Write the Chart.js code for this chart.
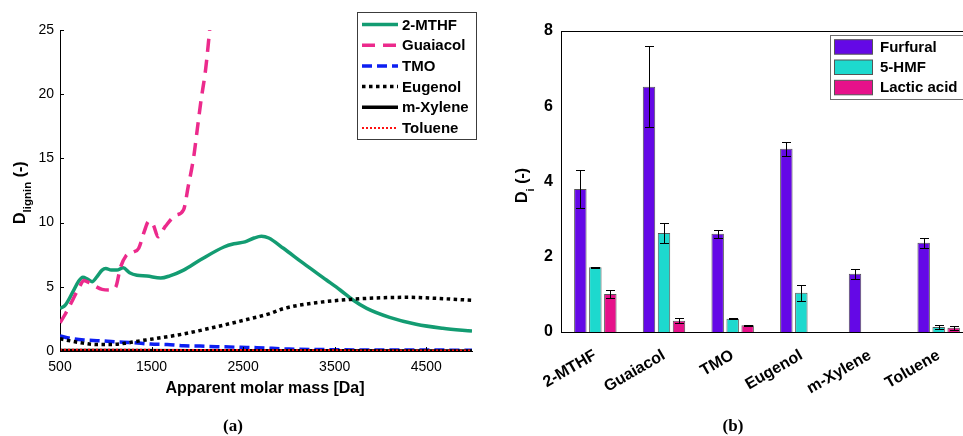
<!DOCTYPE html>
<html>
<head>
<meta charset="utf-8">
<script src="https://cdn.jsdelivr.net/npm/chart.js@4.4.1/dist/chart.umd.min.js"></script>
<style>
  html, body { margin: 0; padding: 0; background: #fff; overflow: hidden; width: 963px; height: 436px; }
  #lignin { position: absolute; left: 0; top: 0; }
  #partition { position: absolute; left: 490px; top: 0; }
  .cap { position: absolute; top: 416px; width: 80px; text-align: center; font: bold 17px "Liberation Serif", "Times New Roman", serif; color: #000; }
</style>
</head>
<body>
<canvas id="lignin" width="490" height="436"></canvas>
<canvas id="partition" width="500" height="436"></canvas>
<div class="cap" style="left:193px">(a)</div>
<div class="cap" style="left:693px">(b)</div>
<script>
// (a) lignin distribution coefficient vs apparent molar mass
const massTicks = [500, 1500, 2500, 3500, 4500];

const mthfMass = [500, 560, 640, 700, 750, 800, 850, 900, 960, 1000, 1060, 1120, 1190, 1260, 1340, 1450, 1600, 1700, 1850, 2030, 2290, 2400, 2520, 2620, 2700, 2780, 2940, 3160, 3410, 3560, 3700, 3850, 4100, 4390, 4680, 5000];
const mthfD    = [3.3, 3.6, 4.6, 5.4, 5.75, 5.6, 5.4, 5.75, 6.3, 6.43, 6.3, 6.3, 6.48, 6.1, 5.9, 5.84, 5.68, 5.85, 6.3, 7.08, 8.1, 8.35, 8.5, 8.8, 8.93, 8.8, 8.0, 6.82, 5.53, 4.75, 3.97, 3.32, 2.62, 2.08, 1.77, 1.55];

const guaiacolMass = [500, 560, 640, 720, 760, 810, 870, 960, 1050, 1110, 1160, 1220, 1300, 1360, 1420, 1470, 1520, 1570, 1650, 1760, 1850, 1900, 1960, 2000, 2040, 2090, 2135];
const guaiacolD    = [2.2, 2.9, 4.0, 5.1, 5.5, 5.35, 5.1, 4.8, 4.75, 5.0, 6.5, 7.4, 7.7, 8.0, 9.3, 10.1, 9.8, 8.9, 9.7, 10.55, 11.0, 12.8, 15.1, 17.3, 19.5, 21.9, 25.0];

const tmoMass = [500, 610, 760, 940, 1090, 1300, 1490, 1670, 1850, 2030, 2210, 2470, 2650, 3000, 3500, 4000, 4500, 5000];
const tmoD    = [1.17, 0.99, 0.86, 0.8, 0.72, 0.64, 0.54, 0.5, 0.41, 0.38, 0.34, 0.29, 0.26, 0.15, 0.1, 0.08, 0.08, 0.05];

const eugenolMass = [500, 720, 900, 1050, 1230, 1380, 1490, 1850, 2210, 2540, 2800, 2940, 3300, 3670, 4030, 4320, 4610, 5000];
const eugenolD    = [0.95, 0.65, 0.5, 0.5, 0.62, 0.8, 0.91, 1.33, 1.89, 2.45, 2.93, 3.3, 3.76, 4.02, 4.15, 4.18, 4.1, 3.95];

const xyleneMass = [500, 2000, 3500, 5000];
const xyleneD    = [0.04, 0.02, 0.01, 0.0];

const tolueneMass = [500, 2000, 3500, 5000];
const tolueneD    = [0.1, 0.08, 0.05, 0.04];

// (b) partition coefficients of sugar degradation products
const solvents   = ['2-MTHF', 'Guaiacol', 'TMO', 'Eugenol', 'm-Xylene', 'Toluene'];
const furfural    = [3.8, 6.52, 2.61, 4.87, 1.55, 2.37];
const furfuralErr = [0.5, 1.07, 0.1, 0.18, 0.13, 0.13];
const hmf         = [1.72, 2.63, 0.35, 1.04, null, 0.13];
const hmfErr      = [0.01, 0.26, 0.01, 0.21, null, 0.05];
const lactic      = [1.01, 0.30, 0.18, null, null, 0.11];
const lacticErr   = [0.11, 0.07, 0.01, null, null, 0.05];

const pts = (xs, ys) => xs.map((x, i) => ({ x: x, y: ys[i] }));

function rotatedLabel(ctx, x, y, main, sub, rest, size, subSize, subShift) {
  ctx.save();
  ctx.translate(x, y);
  ctx.rotate(-Math.PI / 2);
  ctx.fillStyle = '#000';
  ctx.textAlign = 'left';
  ctx.textBaseline = 'alphabetic';
  ctx.font = 'bold ' + size + 'px "Liberation Sans", Arial, sans-serif';
  ctx.fillText(main, 0, 0);
  let w = ctx.measureText(main).width;
  ctx.font = 'bold ' + subSize + 'px "Liberation Sans", Arial, sans-serif';
  ctx.fillText(sub, w, subShift);
  w += ctx.measureText(sub).width;
  ctx.font = 'bold ' + size + 'px "Liberation Sans", Arial, sans-serif';
  ctx.fillText(rest, w, 0);
  ctx.restore();
}

const lineStyles = [
  { label: '2-MTHF',   mass: mthfMass,     d: mthfD,     color: '#139c72', width: 3.5, dash: [] },
  { label: 'Guaiacol', mass: guaiacolMass, d: guaiacolD, color: '#ec2a8c', width: 3.5, dash: [13, 8] },
  { label: 'TMO',      mass: tmoMass,      d: tmoD,      color: '#0d1ff2', width: 3.5, dash: [10, 5] },
  { label: 'Eugenol',  mass: eugenolMass,  d: eugenolD,  color: '#000000', width: 3.5, dash: [3.5, 3.5] },
  { label: 'm-Xylene', mass: xyleneMass,   d: xyleneD,   color: '#000000', width: 3.5, dash: [] },
  { label: 'Toluene',  mass: tolueneMass,  d: tolueneD,  color: '#ff1010', width: 2,   dash: [2, 2] }
];

const ligninDecor = {
  id: 'ligninDecor',
  afterDraw(chart) {
    const ctx = chart.ctx;
    const a = chart.chartArea;
    const xs = chart.scales.x, ys = chart.scales.y;
    // inward tick marks
    ctx.save();
    ctx.strokeStyle = '#000';
    ctx.lineWidth = 1;
    ctx.beginPath();
    massTicks.forEach(v => {
      const px = Math.round(xs.getPixelForValue(v)) + 0.5;
      ctx.moveTo(px, a.bottom); ctx.lineTo(px, a.bottom - 4);
    });
    [0, 5, 10, 15, 20, 25].forEach(v => {
      const py = Math.round(ys.getPixelForValue(v)) + 0.5;
      ctx.moveTo(a.left, py); ctx.lineTo(a.left + 4, py);
    });
    ctx.stroke();

    // legend
    ctx.fillStyle = '#fff';
    ctx.fillRect(357.5, 12.5, 119, 127);
    ctx.strokeStyle = '#3c3c3c';
    ctx.strokeRect(357.5, 12.5, 119, 127);
    ctx.font = 'bold 15px "Liberation Sans", Arial, sans-serif';
    ctx.textBaseline = 'middle';
    ctx.textAlign = 'left';
    lineStyles.forEach((s, i) => {
      const y = 24.5 + i * 20.7;
      ctx.strokeStyle = s.color;
      ctx.lineWidth = s.width;
      ctx.lineCap = 'butt';
      ctx.setLineDash(s.dash);
      ctx.beginPath();
      ctx.moveTo(362, y); ctx.lineTo(398, y);
      ctx.stroke();
      ctx.setLineDash([]);
      ctx.fillStyle = '#000';
      ctx.fillText(s.label, 402, y + 1);
    });

    // axis titles
    ctx.font = 'bold 16px "Liberation Sans", Arial, sans-serif';
    ctx.textAlign = 'center';
    ctx.textBaseline = 'middle';
    ctx.fillText('Apparent molar mass [Da]', 265, 389);
    ctx.restore();
    rotatedLabel(ctx, 25, 224, 'D', 'lignin', ' (-)', 16, 11.5, 6);
  }
};

new Chart(document.getElementById('lignin'), {
  type: 'line',
  data: {
    datasets: lineStyles.map((s, i) => ({
      label: s.label,
      data: pts(s.mass, s.d),
      borderColor: s.color,
      borderWidth: s.width,
      borderDash: s.dash,
      borderCapStyle: 'butt',
      pointRadius: 0,
      fill: false,
      cubicInterpolationMode: 'monotone',
      order: lineStyles.length - i
    }))
  },
  options: {
    responsive: false,
    animation: false,
    devicePixelRatio: 1,
    layout: { padding: { top: 30, right: 18, left: 0, bottom: 0 } },
    plugins: { legend: { display: false }, tooltip: { enabled: false } },
    scales: {
      x: {
        type: 'linear', min: 500, max: 5000,
        afterBuildTicks: s => { s.ticks = massTicks.map(v => ({ value: v })); },
        afterFit: s => { s.height = 85; },
        grid: { display: false, drawTicks: false },
        border: { display: true, color: '#000', width: 1 },
        ticks: { color: '#000', padding: 8, maxRotation: 0, autoSkip: false,
                 callback: v => String(v),
                 font: { family: '"Liberation Sans", Arial, sans-serif', size: 14 } }
      },
      y: {
        min: 0, max: 25,
        afterFit: s => { s.width = 60; },
        grid: { display: false, drawTicks: false },
        border: { display: true, color: '#000', width: 1 },
        ticks: { stepSize: 5, color: '#000', padding: 6,
                 font: { family: '"Liberation Sans", Arial, sans-serif', size: 14 } }
      }
    }
  },
  plugins: [ligninDecor]
});

// error bars, box frame, legend and y title for (b)
const barSeries = [
  { label: 'Furfural',    values: furfural, err: furfuralErr, color: '#6408e6' },
  { label: '5-HMF',       values: hmf,      err: hmfErr,      color: '#1dd9ce' },
  { label: 'Lactic acid', values: lactic,   err: lacticErr,   color: '#e6118a' }
];

const partitionDecor = {
  id: 'partitionDecor',
  afterDatasetsDraw(chart) {
    const ctx = chart.ctx;
    const ys = chart.scales.y;
    ctx.save();
    ctx.strokeStyle = '#000';
    ctx.lineWidth = 1;
    barSeries.forEach((s, i) => {
      const meta = chart.getDatasetMeta(i);
      meta.data.forEach((bar, j) => {
        const v = s.values[j], e = s.err[j];
        if (v == null || e == null) return;
        const x = Math.round(bar.x) + 0.5;
        const top = Math.round(ys.getPixelForValue(v + e)) + 0.5;
        const bot = Math.round(ys.getPixelForValue(v - e)) + 0.5;
        ctx.beginPath();
        ctx.moveTo(x, top); ctx.lineTo(x, bot);
        ctx.moveTo(x - 4.5, top); ctx.lineTo(x + 4.5, top);
        ctx.moveTo(x - 4.5, bot); ctx.lineTo(x + 4.5, bot);
        ctx.stroke();
      });
    });
    ctx.restore();
  },
  afterDraw(chart) {
    const ctx = chart.ctx;
    const a = chart.chartArea;
    ctx.save();
    ctx.strokeStyle = '#000';
    ctx.lineWidth = 1;
    ctx.beginPath();
    ctx.moveTo(a.left, Math.round(a.top) + 0.5);
    ctx.lineTo(a.right, Math.round(a.top) + 0.5);
    ctx.stroke();

    // legend
    ctx.fillStyle = '#fff';
    ctx.fillRect(340.5, 35.5, 140, 64);
    ctx.strokeStyle = '#6e6e6e';
    ctx.strokeRect(340.5, 35.5, 140, 64);
    ctx.font = 'bold 15px "Liberation Sans", Arial, sans-serif';
    ctx.textBaseline = 'middle';
    ctx.textAlign = 'left';
    barSeries.forEach((s, i) => {
      const y = 46.7 + i * 20.3;
      ctx.fillStyle = s.color;
      ctx.fillRect(344.5, y - 7, 38, 14.5);
      ctx.strokeStyle = '#555';
      ctx.strokeRect(344.5, y - 7, 38, 14.5);
      ctx.fillStyle = '#000';
      ctx.fillText(s.label, 390, y + 1);
    });
    ctx.restore();
    rotatedLabel(ctx, 37, 203, 'D', 'i', ' (-)', 16, 11.5, 7);
  }
};

new Chart(document.getElementById('partition'), {
  type: 'bar',
  data: {
    labels: solvents,
    datasets: barSeries.map(s => ({
      label: s.label,
      data: s.values,
      backgroundColor: s.color,
      borderColor: '#555',
      borderWidth: 1,
      categoryPercentage: 0.655,
      barPercentage: 0.83
    }))
  },
  options: {
    responsive: false,
    animation: false,
    devicePixelRatio: 1,
    layout: { padding: { top: 31, right: 17, left: 0, bottom: 0 } },
    plugins: { legend: { display: false }, tooltip: { enabled: false } },
    scales: {
      x: {
        afterFit: s => { s.height = 104; },
        grid: { display: false, drawTicks: false },
        border: { display: true, color: '#000', width: 1 },
        ticks: { color: '#000', padding: 14, minRotation: 30, maxRotation: 30, autoSkip: false,
                 font: { family: '"Liberation Sans", Arial, sans-serif', size: 16, weight: 'bold' } }
      },
      y: {
        min: 0, max: 8,
        afterFit: s => { s.width = 71; },
        grid: { display: false, drawTicks: false },
        border: { display: true, color: '#000', width: 1 },
        ticks: { stepSize: 2, color: '#000', padding: 8,
                 font: { family: '"Liberation Sans", Arial, sans-serif', size: 16, weight: 'bold' } }
      }
    }
  },
  plugins: [partitionDecor]
});
</script>
</body>
</html>
